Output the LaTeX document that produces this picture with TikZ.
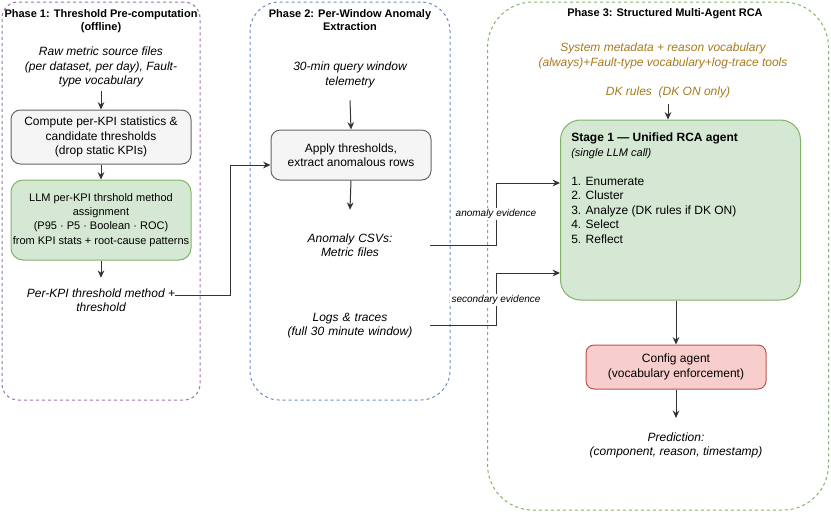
\documentclass[tikz,border=0pt]{standalone}
\usepackage{fontspec}
\setmainfont{Liberation Sans}
\usetikzlibrary{arrows.meta}
\definecolor{p1c}{HTML}{9673A6}
\definecolor{p2c}{HTML}{6C8EBF}
\definecolor{p3c}{HTML}{82B366}
\definecolor{greyfill}{HTML}{F5F5F5}
\definecolor{greyline}{HTML}{666666}
\definecolor{greenfill}{HTML}{D5E8D4}
\definecolor{greenline}{HTML}{82B366}
\definecolor{redfill}{HTML}{F8CECC}
\definecolor{redline}{HTML}{B85450}
\definecolor{ochre}{HTML}{A67A1C}
\definecolor{linec}{HTML}{333333}
\begin{document}
\begin{tikzpicture}[x=0.75pt,y=-0.75pt,
 every node/.style={font=\fontsize{9}{10.9}\selectfont, inner sep=0pt},
 phase/.style={dash pattern=on 2.25pt off 2.25pt, line width=0.75pt},
 ttl/.style={font=\fontsize{8.25}{9.6}\selectfont\bfseries, align=center},
 itx/.style={font=\fontsize{9}{10.9}\selectfont\itshape, align=center},
 gbox/.style={draw=greyline, fill=greyfill, rounded corners=7pt, line width=0.75pt, align=center},
 grbox/.style={draw=greenline, fill=greenfill, rounded corners=9pt, line width=0.75pt, align=center},
 rbox/.style={draw=redline, fill=redfill, rounded corners=6pt, line width=0.75pt, align=center},
 arr/.style={draw=linec, line width=0.75pt, -{Stealth[length=5.5pt,width=5pt]}},
 ln/.style={draw=linec, line width=0.75pt},
 lbl/.style={font=\fontsize{7.5}{9}\selectfont\itshape, fill=white, inner sep=1pt}
]
\useasboundingbox (0,0) rectangle (831,511);

% phase containers
\node[phase, draw=p1c, rounded corners=12pt, minimum width=148.5pt, minimum height=298.5pt] (ph1) at (101,201) {};
\node[phase, draw=p2c, rounded corners=22pt, minimum width=150pt, minimum height=298.5pt] (ph2) at (350,201) {};
\node[phase, draw=p3c, rounded corners=34pt, minimum width=255.75pt, minimum height=381pt] (ph3) at (658,256) {};

% Phase 1
\node[ttl] (t1) at (101,21) {Phase 1: Threshold Pre-computation\\(offline)};
\node[itx, minimum height=36pt] (raw) at (101,67) {Raw metric source files\\(per dataset, per day), Fault-\\type vocabulary};
\node[gbox, minimum width=135pt, minimum height=40.5pt] (stats) at (101,137) {Compute per-KPI statistics \&\\candidate thresholds\\(drop static KPIs)};
\node[grbox, minimum width=135pt, minimum height=60pt, font=\fontsize{8.25}{10.6}\selectfont] (llm) at (101,220) {LLM per-KPI thrshold method\\assignment\\(P95 · P5 · Boolean · ROC)\\from KPI stats + root-cause patterns};
\node[itx, minimum height=33pt] (perkpi) at (101,300) {Per-KPI threshold method +\\threshold};
\draw[arr] (raw.south) -- (stats.north);
\draw[arr] (stats.south) -- (llm.north);
\draw[arr] (llm.south) -- (perkpi.north);

% Phase 2
\node[ttl] (t2) at (350,20) {Phase 2: Per-Window Anomaly\\Extraction};
\node[itx, minimum height=37.5pt] (query) at (350,75) {30-min query window\\telemetry};
\node[gbox, minimum width=120pt, minimum height=37.5pt] (apply) at (351,155) {Apply thresholds,\\extract anomalous rows};
\node[itx, text width=120pt, minimum height=52.5pt] (csv) at (350,245) {Anomaly CSVs:\\Metric files};
\node[itx, text width=120pt] (logs) at (350,325.5) {Logs \& traces\\(full 30 minute window)};
\draw[arr] (query.south) -- (apply.north);
\draw[arr] (apply.south) -- (csv.north);

\coordinate (j1) at (230,295);
\coordinate (j2) at (230,165);
\draw[arr] (j1 -| perkpi.east) -- (j1) -- (j2) -- (j2 -| apply.west);

% Phase 3
\node[ttl] (t3) at (665,14) {Phase 3: Structured Multi-Agent RCA};
\node[itx, text=ochre] (meta) at (663,56) {System metadata + reason vocabulary\\(always)+Fault-type vocabulary+log-trace tools};
\node[itx, text=ochre, minimum height=18pt] (dk) at (668,92) {DK rules\ \ (DK ON only)};
\node[grbox, rounded corners=15pt, minimum width=180pt, minimum height=135pt] (stage1) at (680.5,210) {};
\node[anchor=north west, align=left] (s1txt) at (571,133) {\textbf{Stage 1 — Unified RCA agent}\\{\fontsize{8.25}{10}\selectfont\itshape (single LLM call)}\\[10.6pt]1. Enumerate\\2. Cluster\\3. Analyze (DK rules if DK ON)\\4. Select\\5. Reflect};
\node[rbox, minimum width=135pt, minimum height=33pt] (config) at (676,367) {Config agent\\(vocabulary enforcement)};
\node[itx, minimum height=41pt] (pred) at (676,445.5) {Prediction:\\(component, reason, timestamp)};
\draw[arr] (dk.south) -- (dk.south |- stage1.north);
\draw[arr] (config.north |- stage1.south) -- (config.north);
\draw[arr] (config.south) -- (pred.north);

% evidence connectors
\coordinate (a1) at (496,183);
\coordinate (a2) at (496,273);
\draw[arr] (csv.east) -| (a1) -- (a1 -| stage1.west);
\draw[arr] (logs.east) -| (a2) -- (a2 -| stage1.west);
\node[lbl] (lb1) at (496,214) {anomaly evidence};
\node[lbl] (lb2) at (496,300) {secondary evidence};
\end{tikzpicture}
\end{document}
